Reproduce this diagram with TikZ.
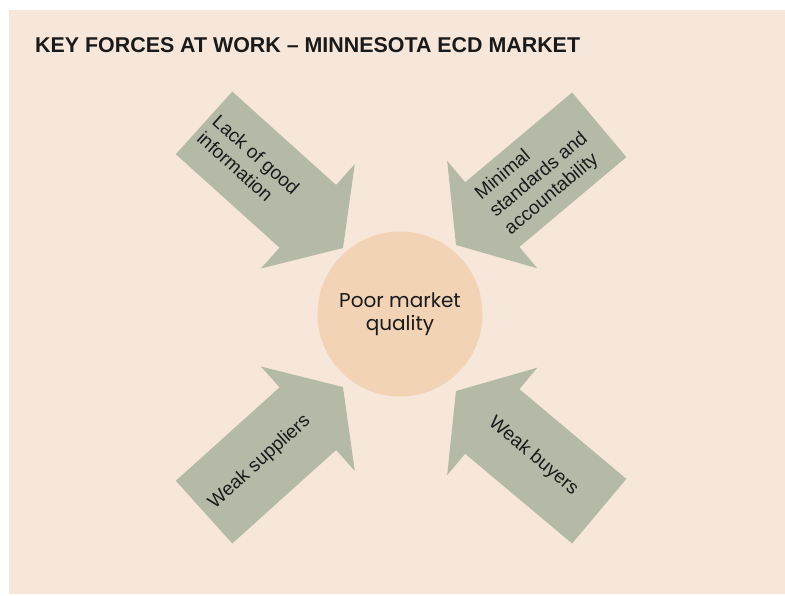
\documentclass[tikz,border=0pt]{standalone}
\usepackage{fontspec}
\setmainfont{Liberation Sans}
\newfontfamily\geofont{Poppins}
\usetikzlibrary{shapes.arrows,calc}
\definecolor{sand}{HTML}{F7E7DA}
\definecolor{sage}{HTML}{B5BAA8}
\definecolor{peach}{HTML}{F2D3B5}
\definecolor{ink}{HTML}{1A1A1A}
\tikzstyle{forcearrow}=[single arrow, fill=sage, draw=none, inner xsep=0pt, inner ysep=42pt, outer sep=0pt,
  single arrow head extend=28pt, single arrow tip angle=112, minimum height=187pt, anchor=tip]
\tikzstyle{forcelabel}=[text=ink, align=left, inner sep=0pt, font=\fontsize{19}{23}\selectfont]
\tikzstyle{market}=[circle, fill=peach, minimum size=165pt, inner sep=0pt, text=ink, align=center,
  font=\geofont\fontsize{20}{23.5}\selectfont]

\begin{document}
\begin{tikzpicture}[x=1pt,y=-1pt]
    \useasboundingbox (0,0) rectangle (785,595);
    \fill[sand] (9,10) rectangle (785,594);
    \node[anchor=base west, inner sep=0pt, text=ink, font=\bfseries\fontsize{21.4}{25}\selectfont]
        (title) at (35,52.7) {KEY FORCES AT WORK – MINNESOTA ECD MARKET};

    \node[forcearrow, rotate=-42] (info) at (343,248) {};
    \node[forcearrow, rotate=220] (standards) at (456,245) {};
    \node[forcearrow, rotate=42] (suppliers) at (343,387) {};
    \node[forcearrow, rotate=140] (buyers) at (456,391) {};

    \node[market] (quality) at (400,314) {Poor market\\quality};

    \node[forcelabel, rotate=-42] (infotext) at ($(info.tail)!0.32!(info.tip)$) {Lack of good\\information};
    \node[forcelabel, rotate=40] (standardstext) at ($(standards.tail)!0.42!(standards.tip)$) {Minimal\\standards and\\accountability};
    \node[forcelabel, rotate=42] (supplierstext) at ($(suppliers.tail)!0.40!(suppliers.tip)$) {Weak suppliers};
    \node[forcelabel, rotate=-40] (buyerstext) at ($(buyers.tail)!0.46!(buyers.tip)$) {Weak buyers};
\end{tikzpicture}
\end{document}
